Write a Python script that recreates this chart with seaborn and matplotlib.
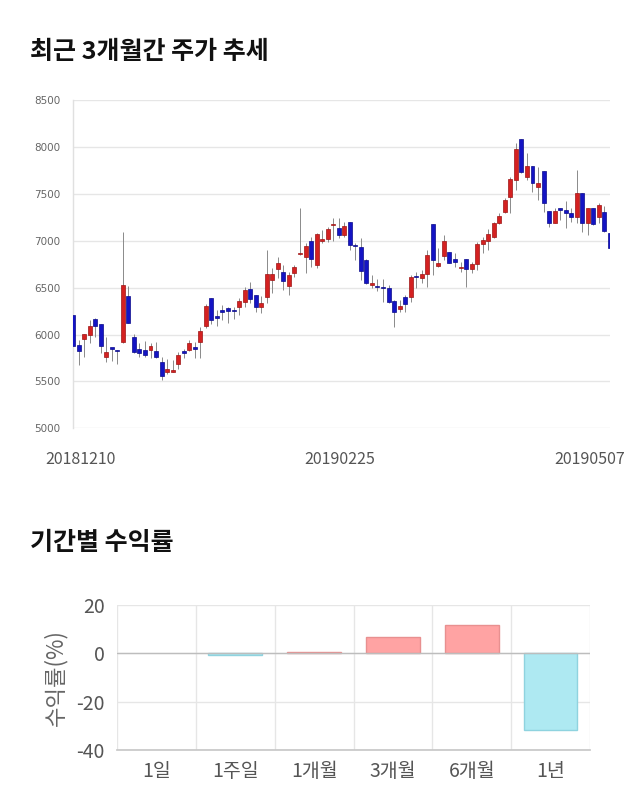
import matplotlib
matplotlib.use("Agg")
import matplotlib.pyplot as plt
import seaborn as sns
import numpy as np
import pandas as pd

# ---------------- data ----------------
opens = [6208, 5890, 5950, 6000, 6160, 6110, 5765, 5855, 5830, 5915,
         6410, 5975, 5845, 5830, 5835, 5825, 5710, 5600, 5605, 5690,
         5820, 5835, 5855, 5925, 6090, 6385, 6200, 6260, 6285, 6260,
         6297, 6350, 6485, 6420, 6290, 6404, 6581, 6699, 6663, 6521,
         6653, 6855, 6830, 6997, 6741, 6997, 7018, 7168, 7132, 7061,
         7196, 6954, 6937, 6795, 6528, 6518, 6510, 6493, 6358, 6272,
         6403, 6404, 6624, 6606, 6642, 7178, 6734, 6841, 6876, 6802,
         6709, 6802, 6695, 6752, 6965, 7001, 7043, 7193, 7310, 7470,
         7647, 8081, 7683, 7800, 7576, 7743, 7317, 7193, 7345, 7328,
         7292, 7249, 7505, 7193, 7345, 7257, 7303, 7086]
closes = [5881, 5825, 6005, 6095, 6095, 5880, 5815, 5850, 5825, 6525,
          6125, 5815, 5805, 5780, 5875, 5760, 5560, 5630, 5625, 5780,
          5800, 5905, 5850, 6035, 6300, 6155, 6180, 6235, 6255, 6250,
          6358, 6475, 6379, 6290, 6340, 6645, 6645, 6759, 6571, 6635,
          6724, 6873, 6944, 6802, 7068, 7015, 7125, 7182, 7061, 7157,
          6954, 6940, 6681, 6546, 6546, 6503, 6496, 6343, 6244, 6308,
          6325, 6617, 6610, 6642, 6848, 6795, 6766, 6997, 6766, 6770,
          6724, 6695, 6752, 6965, 7008, 7072, 7185, 7264, 7434, 7654,
          7974, 7736, 7800, 7612, 7612, 7399, 7185, 7320, 7328, 7292,
          7257, 7505, 7193, 7345, 7178, 7381, 7104, 6919]
highs = [6208, 5940, 6010, 6150, 6180, 6115, 5975, 5860, 5835, 7090,
         6520, 6005, 5905, 5930, 5905, 5915, 5760, 5740, 5725, 5810,
         5850, 5940, 5915, 6075, 6330, 6390, 6260, 6315, 6295, 6290,
         6386, 6510, 6557, 6422, 6411, 6901, 6706, 6830, 6741, 6670,
         6741, 7352, 6972, 7043, 7079, 7114, 7150, 7246, 7239, 7203,
         7203, 6972, 7026, 6800, 6635, 6592, 6592, 6528, 6368, 6368,
         6422, 6635, 6670, 6688, 6901, 7178, 6919, 7061, 6880, 6866,
         6777, 6802, 6777, 6990, 7043, 7121, 7200, 7299, 7452, 7683,
         8045, 8081, 7932, 7800, 7782, 7743, 7320, 7345, 7352, 7427,
         7345, 7754, 7505, 7345, 7350, 7399, 7370, 7086]
lows = [5760, 5680, 5760, 5910, 5970, 5800, 5710, 5720, 5690, 5905,
        6120, 5800, 5760, 5765, 5745, 5750, 5515, 5580, 5600, 5630,
        5750, 5820, 5750, 5750, 6070, 6110, 6090, 6155, 6125, 6160,
        6208, 6297, 6333, 6244, 6233, 6340, 6440, 6599, 6475, 6422,
        6610, 6848, 6653, 6724, 6706, 6972, 6990, 6997, 7026, 7043,
        6901, 6795, 6581, 6540, 6493, 6464, 6350, 6340, 6084, 6244,
        6244, 6350, 6493, 6546, 6510, 6635, 6724, 6795, 6759, 6724,
        6670, 6510, 6653, 6688, 6866, 6901, 7026, 7178, 7292, 7299,
        7541, 7718, 7647, 7523, 7434, 7310, 7150, 7185, 7221, 7132,
        7203, 7193, 7097, 7061, 7168, 7185, 7097, 6919]
date_labels = ["20181210", "20190225", "20190507"]
price_ticks = [5000, 5500, 6000, 6500, 7000, 7500, 8000, 8500]

periods = ["1일", "1주일", "1개월", "3개월", "6개월", "1년"]
returns = [0.0, -0.8, 0.5, 6.8, 11.6, -31.8]
ret_ticks = [-40, -20, 0, 20]

# ---------------- style ----------------
sns.set_theme(style="white")
plt.rcParams["font.family"] = ["Noto Sans CJK KR", "DejaVu Sans"]

fig = plt.figure(figsize=(6.4, 8.1), dpi=100)
W, H = 640, 810

def rect(l, t, r, b):
    return [l / W, 1 - b / H, (r - l) / W, (b - t) / H]

# ---------------- candlestick ----------------
ax1 = fig.add_axes(rect(73, 100, 610, 428.3))
df = pd.DataFrame({"o": opens, "c": closes, "h": highs, "l": lows})
df["i"] = np.arange(len(df))
up = df["c"] >= df["o"]
RED, RED_E = "#d42121", "#9c1414"
BLUE, BLUE_E = "#1414c4", "#0a0a8a"

ax1.vlines(df["i"], df["l"], df["h"], color="#8a8a8a", linewidth=0.7, zorder=2)
body_h = np.maximum((df["c"] - df["o"]).abs(), 15)
body_b = np.minimum(df["o"], df["c"])
ax1.bar(df["i"][up], body_h[up], bottom=body_b[up], width=0.72,
        color=RED, edgecolor=RED_E, linewidth=0.5, zorder=3)
ax1.bar(df["i"][~up], body_h[~up], bottom=body_b[~up], width=0.72,
        color=BLUE, edgecolor=BLUE_E, linewidth=0.5, zorder=3)

ax1.set_xlim(0, len(df) - 1)
ax1.set_ylim(5000, 8500)
ax1.set_yticks(price_ticks)
ax1.set_yticklabels([str(t) for t in price_ticks], fontsize=7.5, color="#666666",
                    family=["DejaVu Sans"])
ax1.set_xticks([])
ax1.tick_params(axis="y", length=0, pad=9)
ax1.grid(axis="y", color="#e6e6e6", linewidth=1)
for s in ["top", "right", "bottom"]:
    ax1.spines[s].set_visible(False)
ax1.spines["left"].set_color("#e0e0e0")
ax1.spines["left"].set_linewidth(1)

for x, lab in zip([80, 340, 590], date_labels):
    fig.text(x / W, 1 - 460 / H, lab, ha="center", va="center",
             fontsize=11.5, color="#555555")

fig.text(30 / W, 1 - 52 / H, "최근 3개월간 주가 추세", ha="left", va="center",
         fontsize=18, fontweight="bold", color="#111111")
fig.text(30 / W, 1 - 543 / H, "기간별 수익률", ha="left", va="center",
         fontsize=18, fontweight="bold", color="#111111")

# ---------------- returns bar chart ----------------
ax2 = fig.add_axes(rect(117, 605, 590, 750))
colors = ["#ffa3a3" if v >= 0 else "#aee9f2" for v in returns]
edges = ["#e89090" if v >= 0 else "#8fd3df" for v in returns]
sns.barplot(x=periods, y=returns, hue=periods, palette=colors, legend=False,
            width=0.68, ax=ax2, zorder=3, saturation=1)
for p, e, v in zip(ax2.patches, edges, returns):
    p.set_edgecolor(e)
    p.set_linewidth(1 if v != 0 else 0)

ax2.set_ylim(-40, 20)
ax2.set_xlim(-0.5, len(periods) - 0.5)
ax2.set_yticks(ret_ticks)
ax2.set_yticklabels([str(t) for t in ret_ticks], fontsize=14, color="#555555")
ax2.tick_params(axis="y", length=0, pad=9)
ax2.tick_params(axis="x", which="major", length=0, pad=8, labelsize=14,
                labelcolor="#555555")
ax2.set_xticks(np.arange(-0.5, len(periods), 1.0), minor=True)
ax2.tick_params(axis="x", which="minor", length=8, color="#e6e6e6", width=1)
ax2.grid(axis="y", color="#e6e6e6", linewidth=1, zorder=0)
ax2.grid(axis="x", which="minor", color="#e6e6e6", linewidth=1, zorder=0)
ax2.grid(axis="x", which="major", visible=False)
ax2.axhline(0, color="#bdbdbd", linewidth=1, zorder=4)
for s in ["top", "right", "left"]:
    ax2.spines[s].set_visible(False)
ax2.spines["bottom"].set_color("#c8c8c8")
ax2.set_xlabel("")
ax2.set_ylabel("수익률(%)", fontsize=16, color="#666666", labelpad=6)

fig.savefig("out.png", dpi=100, facecolor="white")
